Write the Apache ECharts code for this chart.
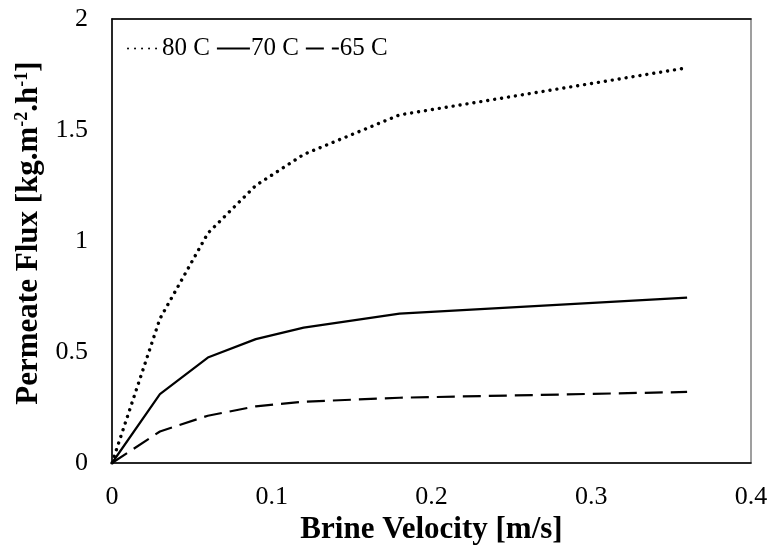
<!DOCTYPE html>
<html>
<head>
<meta charset="utf-8">
<script src="https://cdn.jsdelivr.net/npm/echarts@6/dist/echarts.min.js"></script>
<style>
  html, body { margin: 0; padding: 0; background: #fff; }
  #chart { width: 772px; height: 552px; }
</style>
</head>
<body>
<div id="chart"></div>
<script>
// Brine velocity (m/s) and permeate flux (kg.m-2.h-1) at three feed temperatures
const velocity = [0, 0.03, 0.06, 0.09, 0.12, 0.18, 0.36];
const flux80 = [0, 0.65, 1.035, 1.25, 1.39, 1.568, 1.78];
const flux70 = [0, 0.31, 0.475, 0.558, 0.61, 0.673, 0.745];
const flux65 = [0, 0.142, 0.213, 0.255, 0.276, 0.294, 0.32];
const seriesNames = ['80 C', '70 C', '65 C'];
const xTicks = [0, 0.1, 0.2, 0.3, 0.4];
const yTicks = [0, 0.5, 1, 1.5, 2];

const font = 'Liberation Serif, Times New Roman, serif';
const pairs = ys => velocity.map((v, i) => [v, ys[i]]);

const lineStyles = [
  { color: '#000', width: 3.4, type: [0.01, 7], cap: 'round' },
  { color: '#000', width: 2.2, type: 'solid' },
  { color: '#000', width: 2.2, type: [18, 8] }
];
const allData = [flux80, flux70, flux65];

const chart = echarts.init(document.getElementById('chart'), null, { renderer: 'canvas' });
chart.setOption({
  animation: false,
  backgroundColor: '#fff',
  grid: {
    left: 112, right: 21, top: 19, bottom: 89,
    show: true, borderColor: '#808080', borderWidth: 1.5
  },
  legend: {
    left: 122, top: 31,
    itemWidth: 33, itemHeight: 14, itemGap: 6,
    data: seriesNames,
    itemStyle: { opacity: 0 },
    textStyle: { fontFamily: font, fontSize: 25, color: '#000', padding: [0, 0, 0, -4] }
  },
  xAxis: [{
    type: 'value',
    min: xTicks[0], max: xTicks[xTicks.length - 1], interval: 0.1,
    name: 'Brine Velocity [m/s]',
    nameLocation: 'middle', nameGap: 49,
    nameTextStyle: { fontFamily: font, fontSize: 31, fontWeight: 'bold', color: '#000' },
    axisLine: { show: true, lineStyle: { color: '#000', width: 1.5 } },
    axisTick: { show: false },
    splitLine: { show: false },
    axisLabel: { fontFamily: font, fontSize: 26, color: '#000', margin: 21,
      formatter: v => String(+v.toFixed(1)) }
  }, {
    type: 'value', position: 'top',
    min: xTicks[0], max: xTicks[xTicks.length - 1],
    axisLine: { show: true, lineStyle: { color: '#000', width: 1.5 } },
    axisTick: { show: false }, axisLabel: { show: false }, splitLine: { show: false }
  }],
  yAxis: {
    type: 'value',
    min: yTicks[0], max: yTicks[yTicks.length - 1], interval: 0.5,
    name: 'Permeate Flux [kg.m{sup|-2}.h{sup|-1}]',
    nameLocation: 'middle', nameGap: 66,
    nameTextStyle: {
      fontFamily: font, fontSize: 31, fontWeight: 'bold', color: '#000',
      padding: [0, 0, 0, 16],
      rich: { sup: { fontFamily: font, fontSize: 18, fontWeight: 'bold', color: '#000', verticalAlign: 'top', padding: [0, 0, 12, 0] } }
    },
    axisLine: { show: true, lineStyle: { color: '#000', width: 1.5 } },
    axisTick: { show: false },
    splitLine: { show: false },
    axisLabel: { fontFamily: font, fontSize: 26, color: '#000', margin: 24 }
  },
  series: seriesNames.map((name, i) => ({
    name,
    type: 'line',
    data: pairs(allData[i]),
    symbol: 'none',
    lineStyle: lineStyles[i],
    itemStyle: { color: '#000' }
  }))
});
</script>
</body>
</html>
